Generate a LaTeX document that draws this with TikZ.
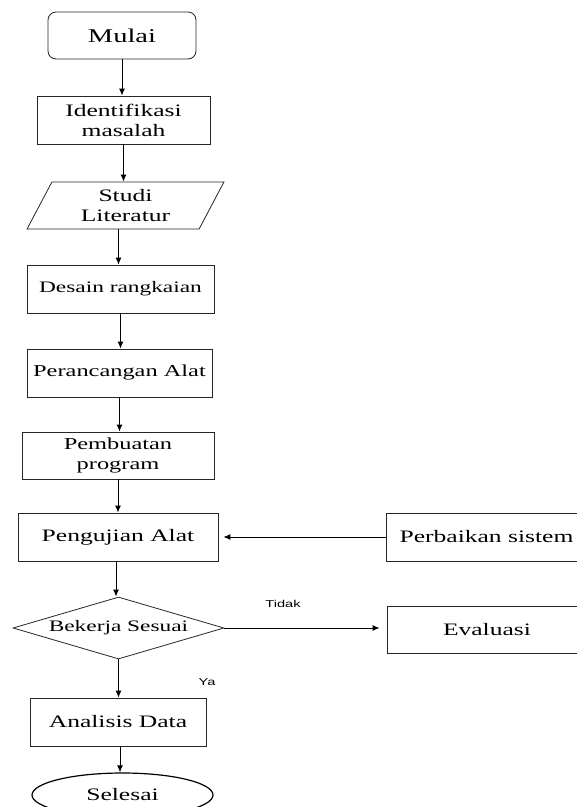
\documentclass[tikz,border=0pt]{standalone}
\usepackage{fontspec}
\setmainfont{Liberation Serif}[FakeStretch=1.46]
\newfontfamily\labelfont{Liberation Sans}[FakeStretch=1.46]
\usetikzlibrary{shapes.geometric,arrows.meta}

\begin{document}
\begin{tikzpicture}[x=1pt,y=-1pt,>={Latex[length=7pt,width=6pt]},
  box/.style={draw=black!85,line width=0.8pt,align=center,inner sep=0pt,
    font=\fontsize{17.5}{20}\selectfont},
  startbox/.style={box,rounded corners=8pt},
  iobox/.style={box,trapezium,trapezium left angle=65,trapezium right angle=115,
    trapezium stretches=true},
  choice/.style={box,diamond,aspect=3.4},
  endbox/.style={box,ellipse,line width=1.2pt,draw=black},
  flow/.style={->,line width=1pt,black},
  lbl/.style={font=\labelfont\fontsize{10}{12}\selectfont}]
  \clip (0,0) rectangle (577,807);
  \useasboundingbox (0,0) rectangle (577,807);

  \node[startbox,minimum width=148pt,minimum height=47pt,font=\fontsize{19.5}{22}\selectfont]
    (mulai) at (122,35.5) {Mulai};
  \node[box,minimum width=173pt,minimum height=48pt] (identifikasi) at (123.5,120)
    {Identifikasi\\masalah};
  \node[iobox,minimum width=197pt,minimum height=47pt] (studi) at (125.5,205.5)
    {Studi\\Literatur};
  \node[box,minimum width=187pt,minimum height=48pt,font=\fontsize{16}{19}\selectfont]
    (desain) at (120.5,289) {Desain rangkaian};
  \node[box,minimum width=185pt,minimum height=48pt,font=\fontsize{16.7}{20}\selectfont]
    (perancangan) at (119.5,373) {Perancangan Alat};
  \node[box,minimum width=192pt,minimum height=47pt,font=\fontsize{16.7}{20}\selectfont]
    (pembuatan) at (118,455.5) {Pembuatan\\program};
  \node[box,minimum width=200pt,minimum height=48pt] (pengujian) at (118,537)
    {Pengujian Alat};
  \node[choice,minimum width=211pt,minimum height=62pt,font=\fontsize{16}{19}\selectfont]
    (bekerja) at (118.5,628) {Bekerja Sesuai};
  \node[box,minimum width=176pt,minimum height=48pt] (analisis) at (118,722)
    {Analisis Data};
  \node[endbox,minimum width=181pt,minimum height=44pt] (selesai) at (122.5,795)
    {Selesai};
  \node[box,minimum width=201pt,minimum height=48pt] (perbaikan) at (486.5,537)
    {Perbaikan sistem};
  \node[box,minimum width=200pt,minimum height=47pt] (evaluasi) at (487,629.5)
    {Evaluasi};

  \node[lbl] (tidak) at (283,604) {Tidak};
  \node[lbl] (ya) at (207,682) {Ya};

  \draw[flow] (mulai.south) -- (mulai.south |- identifikasi.north);
  \draw[flow] (identifikasi.south) -- (identifikasi.south |- studi.north);
  \draw[flow] ([xshift=-7pt]studi.south) -- ([xshift=-7pt]studi.south |- desain.north);
  \draw[flow] (desain.south) -- (desain.south |- perancangan.north);
  \draw[flow] (perancangan.south) -- (perancangan.south |- pembuatan.north);
  \draw[flow] (pembuatan.south) -- (pembuatan.south |- pengujian.north);
  \draw[flow] ([xshift=-2pt]pengujian.south) -- ([xshift=-2pt]pengujian.south |- bekerja.north);
  \draw[flow] (bekerja.south) -- (bekerja.south |- analisis.north);
  \draw[flow] ([xshift=2pt]analisis.south) -- ([xshift=2pt]analisis.south |- selesai.north);
  \draw[flow,shorten >=5pt] (perbaikan.west) -- (perbaikan.west -| pengujian.east);
  \draw[flow,shorten >=7pt] (bekerja.east) -- (bekerja.east -| evaluasi.west);
\end{tikzpicture}
\end{document}
